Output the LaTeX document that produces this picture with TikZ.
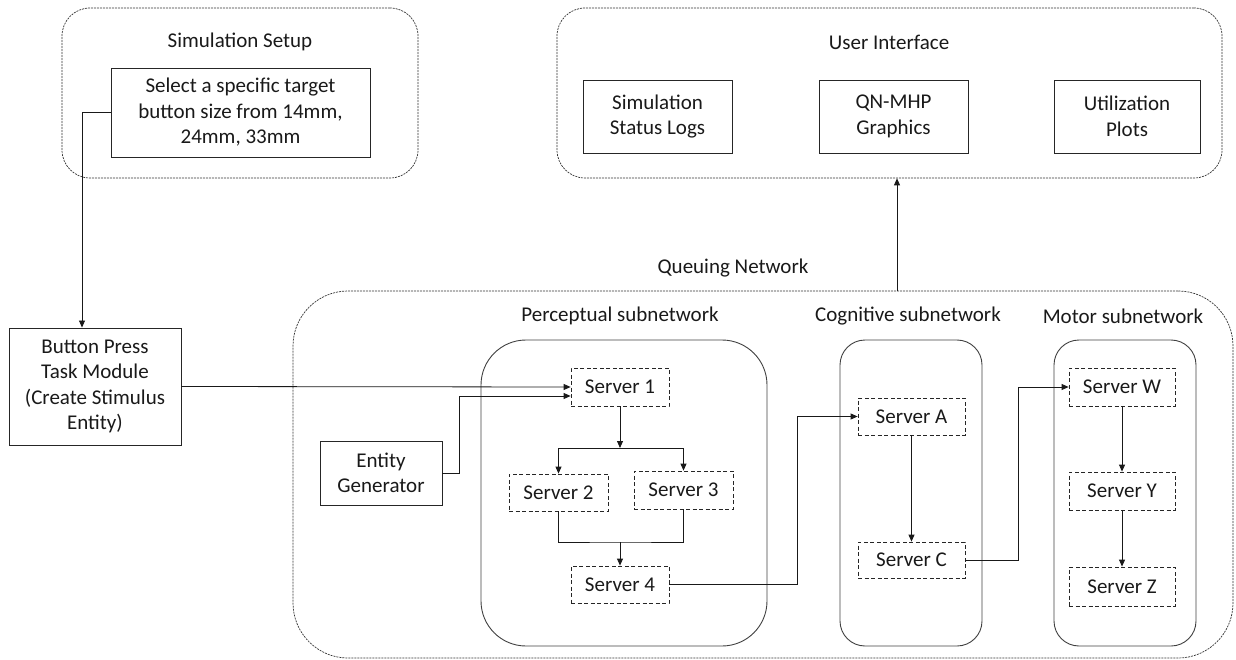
\documentclass[tikz,border=0pt]{standalone}
\usepackage{fontspec}
\setmainfont{Carlito}
\usetikzlibrary{arrows.meta}
\begin{document}
\begin{tikzpicture}[x=1pt,y=-1pt,
  every node/.style={font=\fontsize{21}{25.5}\selectfont, text=black!90, inner sep=0pt, align=center},
  outerbox/.style={draw=black!80, line width=0.7pt, dash pattern=on 2pt off 1pt, rounded corners=28pt},
  plainbox/.style={draw=black!85, line width=0.9pt},
  subbox/.style={draw=black!75, line width=0.9pt},
  srvbox/.style={draw=black!85, line width=0.8pt, dash pattern=on 4pt off 2.5pt},
  lbl/.style={},
  arr/.style={draw=black!90, line width=0.8pt, -{Triangle[length=7pt,width=6pt]}},
  ln/.style={draw=black!90, line width=0.8pt}
]
\useasboundingbox (0,0) rectangle (1236,660);
% Simulation setup
\node[outerbox, minimum width=356pt, minimum height=170pt] (simsetup) at (240,93) {};
\node[lbl] (simtitle) at (240,42) {Simulation Setup};
\node[plainbox, minimum width=259pt, minimum height=89pt] (select) at (240.5,112.5) {Select a specific target\\button size from 14mm,\\24mm, 33mm};
% User interface
\node[outerbox, minimum width=665pt, minimum height=170pt] (ui) at (889.5,93) {};
\node[lbl] (uititle) at (889,42) {User Interface};
\node[plainbox, minimum width=149pt, minimum height=73pt] (logs) at (657.5,116.5) {Simulation\\Status Logs};
\node[plainbox, minimum width=149pt, minimum height=73pt] (qnmhp) at (893.5,116.5) {QN-MHP\\Graphics};
\node[plainbox, minimum width=146pt, minimum height=73pt] (util) at (1127,116.5) {Utilization\\Plots};
% Button press
\node[plainbox, minimum width=172pt, minimum height=117pt] (button) at (95,386.5) {Button Press\\Task Module\\(Create Stimulus\\Entity)};
% Queuing network
\node[outerbox, rounded corners=55pt, minimum width=940pt, minimum height=367pt] (qn) at (763,474.5) {};
\node[lbl] (qnlabel) at (733,268) {Queuing Network};
\node[subbox, rounded corners=45pt, minimum width=286pt, minimum height=306pt] (percep) at (624,493) {};
\node[lbl] (perceplabel) at (620,316) {Perceptual subnetwork};
\node[subbox, rounded corners=25pt, minimum width=142pt, minimum height=306pt] (cog) at (911,493) {};
\node[lbl] (coglabel) at (908,316) {Cognitive subnetwork};
\node[subbox, rounded corners=25pt, minimum width=142pt, minimum height=306pt] (motor) at (1125,493) {};
\node[lbl] (motorlabel) at (1123,316) {Motor subnetwork};
% Servers
\node[srvbox, minimum width=98pt, minimum height=38pt] (s1) at (620,387) {Server 1};
\node[srvbox, minimum width=99pt, minimum height=37pt] (s2) at (558.5,492.5) {Server 2};
\node[srvbox, minimum width=99pt, minimum height=38pt] (s3) at (683.5,490) {Server 3};
\node[srvbox, minimum width=98pt, minimum height=37pt] (s4) at (620,584.5) {Server 4};
\node[srvbox, minimum width=107pt, minimum height=37pt] (sA) at (911.5,416.5) {Server A};
\node[srvbox, minimum width=107pt, minimum height=36pt] (sC) at (911.5,560) {Server C};
\node[srvbox, minimum width=106pt, minimum height=38pt] (sW) at (1122,387) {Server W};
\node[srvbox, minimum width=106pt, minimum height=38pt] (sY) at (1122,491) {Server Y};
\node[srvbox, minimum width=106pt, minimum height=39pt] (sZ) at (1122,586.5) {Server Z};
\node[plainbox, minimum width=122pt, minimum height=64pt] (entity) at (381,473) {Entity\\Generator};
% coordinates
\coordinate (e1) at (459,396);
\coordinate (j1) at (620,448);
\coordinate (j2) at (620,542);
\coordinate (k1) at (797,416.5);
\coordinate (k2) at (1018,387);
% connectors
\draw[arr] (select.west) -| ([xshift=-13pt]button.north);
\draw[arr] (button.east) -- (s1.west);
\draw[arr] (entity.east) -| (e1) -- (e1 -| s1.west);
\draw[arr] (s1.south) -- (j1);
\draw[arr] (j1) -| (s2.north);
\draw[arr] (j1) -| (s3.north);
\draw[ln] (s2.south) |- (j2) -| (s3.south);
\draw[arr] (j2) -- (s4.north);
\draw[arr] (s4.east) -| (k1) -- (sA.west);
\draw[arr] (sA.south) -- (sC.north);
\draw[arr] (sC.east) -| (k2) -- (sW.west);
\draw[arr] (sW.south) -- (sY.north);
\draw[arr] (sY.south) -- (sZ.north);
\draw[arr] ([xshift=134pt]qn.north) -- ([xshift=134pt]qn.north |- ui.south);
\end{tikzpicture}
\end{document}
